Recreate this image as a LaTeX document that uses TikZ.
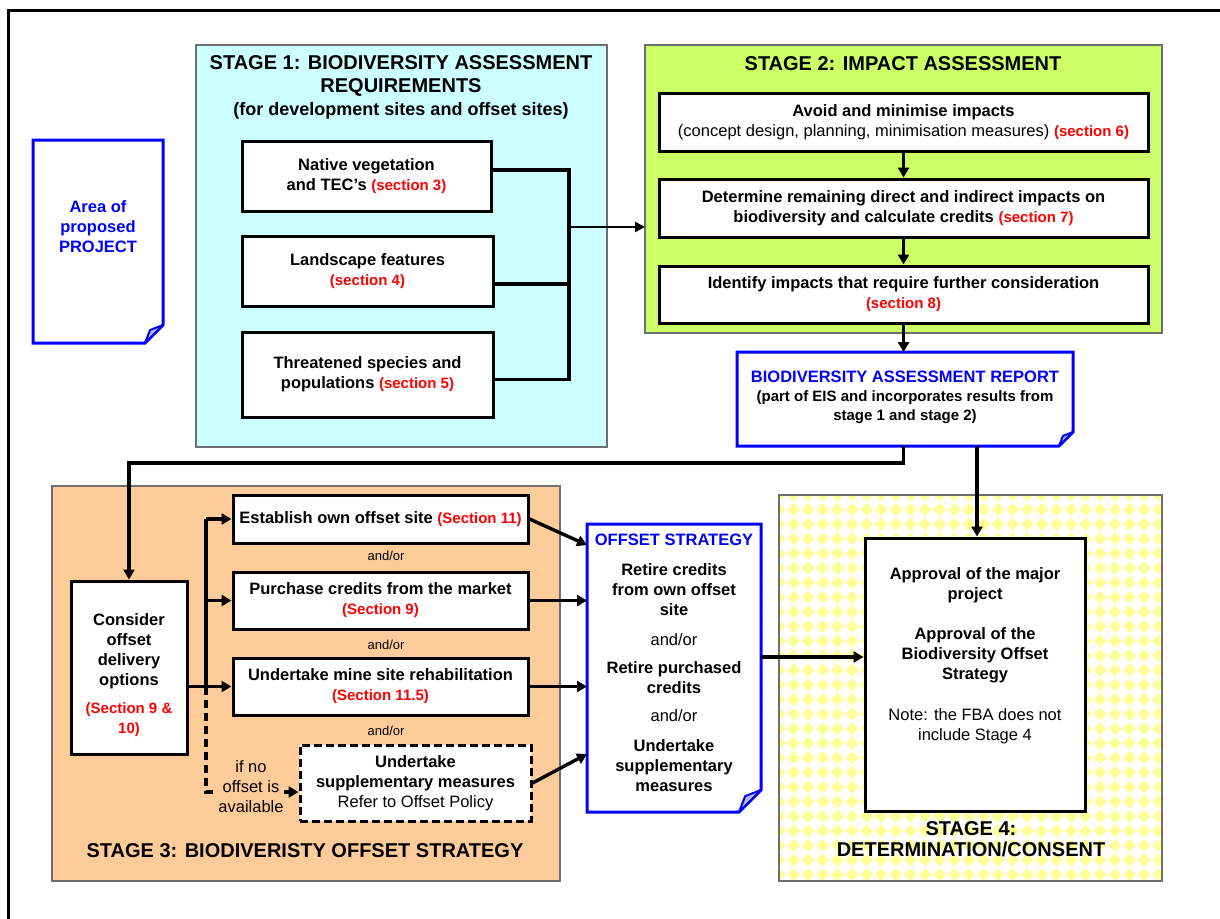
\documentclass[tikz,border=0pt]{standalone}
\usepackage{fontspec}
\setmainfont{Liberation Sans}
\usetikzlibrary{arrows.meta,calc}
\definecolor{sOne}{HTML}{CCFFFF}
\definecolor{sTwo}{HTML}{CCFF66}
\definecolor{sThree}{HTML}{FFCC99}
\definecolor{chk}{HTML}{FFFF99}
\definecolor{docblue}{HTML}{0000FF}
\definecolor{secred}{HTML}{FF0000}
\definecolor{stgray}{HTML}{6E6E6E}
\definecolor{flapfill}{HTML}{B8BCD8}
\newcommand\secr[1]{{\color{secred}\fontsize{15}{20}\selectfont\bfseries #1}}
\newcommand\fBody{\fontsize{16.5}{20}\selectfont}
\newcommand\fTitle{\fontsize{20}{23}\selectfont\bfseries}
\newcommand\fSmall{\fontsize{13}{16}\selectfont}
\newcommand\docoutline[2]{%
  \draw[docline] (#1.north west) -- (#1.north east) -- ($(#1.south east)+(0,-#2)$) -- ($(#1.south east)+(-#2,0)$) -- (#1.south west) -- cycle;
  \draw[flap] ($(#1.south east)+(0,-#2)$) -- ($(#1.south east)+(-0.72*#2,-0.72*#2)$) -- ($(#1.south east)+(-#2,0)$) -- cycle;}
\begin{document}
\begin{tikzpicture}[x=1pt,y=-1pt,
  stagebox/.style={draw=stgray,line width=1.5pt,outer sep=0pt,inner sep=0pt},
  wbox/.style={draw=black,fill=white,line width=3pt,align=center,font=\fBody\bfseries,inner sep=2pt},
  dbox/.style={wbox,dash pattern=on 8pt off 4pt},
  docnode/.style={inner sep=0pt,outer sep=0pt},
  docline/.style={draw=docblue,line width=3pt,line join=miter},
  flap/.style={draw=docblue,fill=flapfill,line width=2pt,line join=round},
  txt/.style={align=center,font=\fBody\bfseries,inner sep=0pt},
  ttl/.style={align=center,font=\fTitle,inner sep=0pt},
  conn/.style={line width=3.4pt},
  arr/.style={line width=3.4pt,-{Triangle[length=10pt,width=11pt]}},
  thinarr/.style={line width=2.4pt,-{Triangle[length=10pt,width=10pt]}}
]
\useasboundingbox (0,0) rectangle (1220,918);
% outer frame
\draw[line width=2.5pt] (8.7,940) -- (8.7,10.5) -- (1240,10.5);

% stage boxes
\node[stagebox,fill=sOne,minimum width=411pt,minimum height=402pt] (s1) at (401.5,246) {};
\node[stagebox,fill=sTwo,minimum width=517pt,minimum height=288pt] (s2) at (903.5,189) {};
\node[stagebox,fill=sThree,minimum width=508pt,minimum height=395pt] (s3) at (306,683.5) {};
\node[stagebox,fill=white,minimum width=383pt,minimum height=386pt] (s4) at (970.5,688) {};
\begin{scope}
\clip (s4.north west) rectangle (s4.south east);
\fill[chk] \foreach \i in {0,...,27}{ \foreach \j in {0,...,27}{
  ({779+\i*14.6},{495+\j*14.6}) ++(0,-6.6) -- ++(6.6,6.6) -- ++(-6.6,6.6) -- ++(-6.6,-6.6) -- cycle } };
\end{scope}
\draw[stgray,line width=1.5pt] (s4.north west) rectangle (s4.south east);

% project document
\node[docnode,minimum width=130pt,minimum height=203pt] (proj) at (98,241.5) {};
\docoutline{proj}{18}
\node[txt,text=docblue] (projt) at (98,227) {Area of\\proposed\\PROJECT};

% stage 1 boxes
\node[wbox,minimum width=249pt,minimum height=70pt] (b1) at (366.5,176) {Native vegetation\\and TEC's \secr{(section 3)}};
\node[wbox,minimum width=251pt,minimum height=70pt] (b2) at (367.5,271) {Landscape features\\\secr{(section 4)}};
\node[wbox,minimum width=251pt,minimum height=85pt] (b3) at (367.5,374.5) {Threatened species and\\populations \secr{(section 5)}};

% stage 2 boxes
\node[wbox,minimum width=489pt,minimum height=58pt] (bA) at (903.5,122) {Avoid and minimise impacts\\{\mdseries (concept design, planning, minimisation measures)} \secr{(section 6)}};
\node[wbox,minimum width=489pt,minimum height=58pt] (bB) at (903.5,208) {Determine remaining direct and indirect impacts on\\biodiversity and calculate credits \secr{(section 7)}};
\node[wbox,minimum width=489pt,minimum height=57pt] (bC) at (903.5,294.5) {Identify impacts that require further consideration\\\secr{(section 8)}};

% report document
\node[docnode,minimum width=336pt,minimum height=94pt] (rep) at (905,399) {};
\docoutline{rep}{14}
\node[txt,font=\fontsize{15}{19}\selectfont\bfseries] (rept) at (905,397) {{\color{docblue}\fontsize{16.5}{19}\selectfont BIODIVERSITY ASSESSMENT REPORT}\\(part of EIS and incorporates results from\\stage 1 and stage 2)};

% stage 3 boxes
\node[wbox,minimum width=116pt,minimum height=173pt] (cons) at (129,667.5) {};
\node[txt] (const) at (129,675) {Consider\\offset\\delivery\\options\\[8pt]\secr{(Section 9 \&}\\\secr{10)}};
\node[wbox,minimum width=295pt,minimum height=48pt] (est) at (380.5,519) {Establish own offset site \secr{(Section 11)}};
\node[wbox,minimum width=295pt,minimum height=57pt] (pur) at (380.5,600.5) {Purchase credits from the market\\\secr{(Section 9)}};
\node[wbox,minimum width=295pt,minimum height=57pt] (mine) at (380.5,686.5) {Undertake mine site rehabilitation\\\secr{(Section 11.5)}};
\node[dbox,minimum width=231pt,minimum height=76pt] (supp) at (415.5,783) {Undertake\\supplementary measures\\{\mdseries Refer to Offset Policy}};
\node[txt,font=\fSmall] (ao1) at (386,556) {and/or};
\node[txt,font=\fSmall] (ao2) at (386,645) {and/or};
\node[txt,font=\fSmall] (ao3) at (386,731) {and/or};
\node[txt,font=\fBody] (ifno) at (251,787) {if no\\offset is\\available};

% offset strategy document
\node[docnode,minimum width=174pt,minimum height=288pt] (off) at (674,668) {};
\docoutline{off}{22}
\node[txt,text=docblue] (offt) at (674,540) {OFFSET STRATEGY};
\node[txt] (off1) at (674,590) {Retire credits\\from own offset\\site};
\node[txt,font=\fBody] (off2) at (674,640) {and/or};
\node[txt] (off3) at (674,677.5) {Retire purchased\\credits};
\node[txt,font=\fBody] (off4) at (674,716) {and/or};
\node[txt] (off5) at (674,766) {Undertake\\supplementary\\measures};

% stage 4 inner box
\node[wbox,minimum width=220pt,minimum height=273pt] (in4) at (975,674.5) {};
\node[txt] (in4t) at (975,656) {Approval of the major\\project\\[20pt]Approval of the\\Biodiversity Offset\\Strategy\\[21pt]{\mdseries Note: the FBA does not}\\{\mdseries include Stage 4}};

% titles
\node[ttl] (s1t) at (401,87) {STAGE 1: BIODIVERSITY ASSESSMENT\\REQUIREMENTS\\{\fontsize{18}{23}\selectfont (for development sites and offset sites)}};
\node[ttl] (s2t) at (903,64) {STAGE 2: IMPACT ASSESSMENT};
\node[ttl] (s3t) at (305,851) {STAGE 3: BIODIVERISTY OFFSET STRATEGY};
\node[ttl,font=\fontsize{20}{21}\selectfont\bfseries] (s4t) at (971,839) {STAGE 4:\\DETERMINATION/CONSENT};

% ---- connectors ----
\coordinate (bus) at (569,227);
\draw[conn] ($(b1.east)+(0,-6)$) -| (bus);
\draw[conn] ($(b2.east)+(0,13)$) -| (bus);
\draw[conn] ($(b3.east)+(0,5)$) -| (bus);
\draw[thinarr] (bus) -- (bus -| s2.west);

\draw[arr] (bA.south) -- (bB.north);
\draw[arr] (bB.south) -- (bC.north);
\draw[arr] (bC.south) -- (bC.south |- rep.north);

\draw[arr] (bC.south |- rep.south) -- ++(0,17) -| (cons.north);
\coordinate (r2) at ($(rep.south)+(72,0)$);
\draw[arr] (r2) -- (r2 |- in4.north);

\coordinate (bt) at (206,519);
\coordinate (dz) at (206,792);
\draw[arr] (cons.east |- mine.west) -- (mine.west);
\draw[conn] (mine.west -| bt) -- (bt);
\draw[arr] (bt) -- (est.west);
\draw[arr] (pur.west -| bt) -- (pur.west);
\draw[conn,dash pattern=on 8pt off 5pt] (mine.west -| bt) -- (dz) -- ++(8,0);
\draw[arr] (ifno.east |- dz) -- (supp.west |- dz);

\draw[arr] (est.east) -- ($(off.north west)+(0,21)$);
\draw[arr] (pur.east) -- (pur.east -| off.west);
\draw[arr] (mine.east) -- (mine.east -| off.west);
\draw[arr] (supp.east) -- ($(off.north west)+(0,230)$);

\coordinate (oe) at ($(off.north east)+(0,133)$);
\draw[arr] (oe) -- (oe -| in4.west);
\end{tikzpicture}
\end{document}
